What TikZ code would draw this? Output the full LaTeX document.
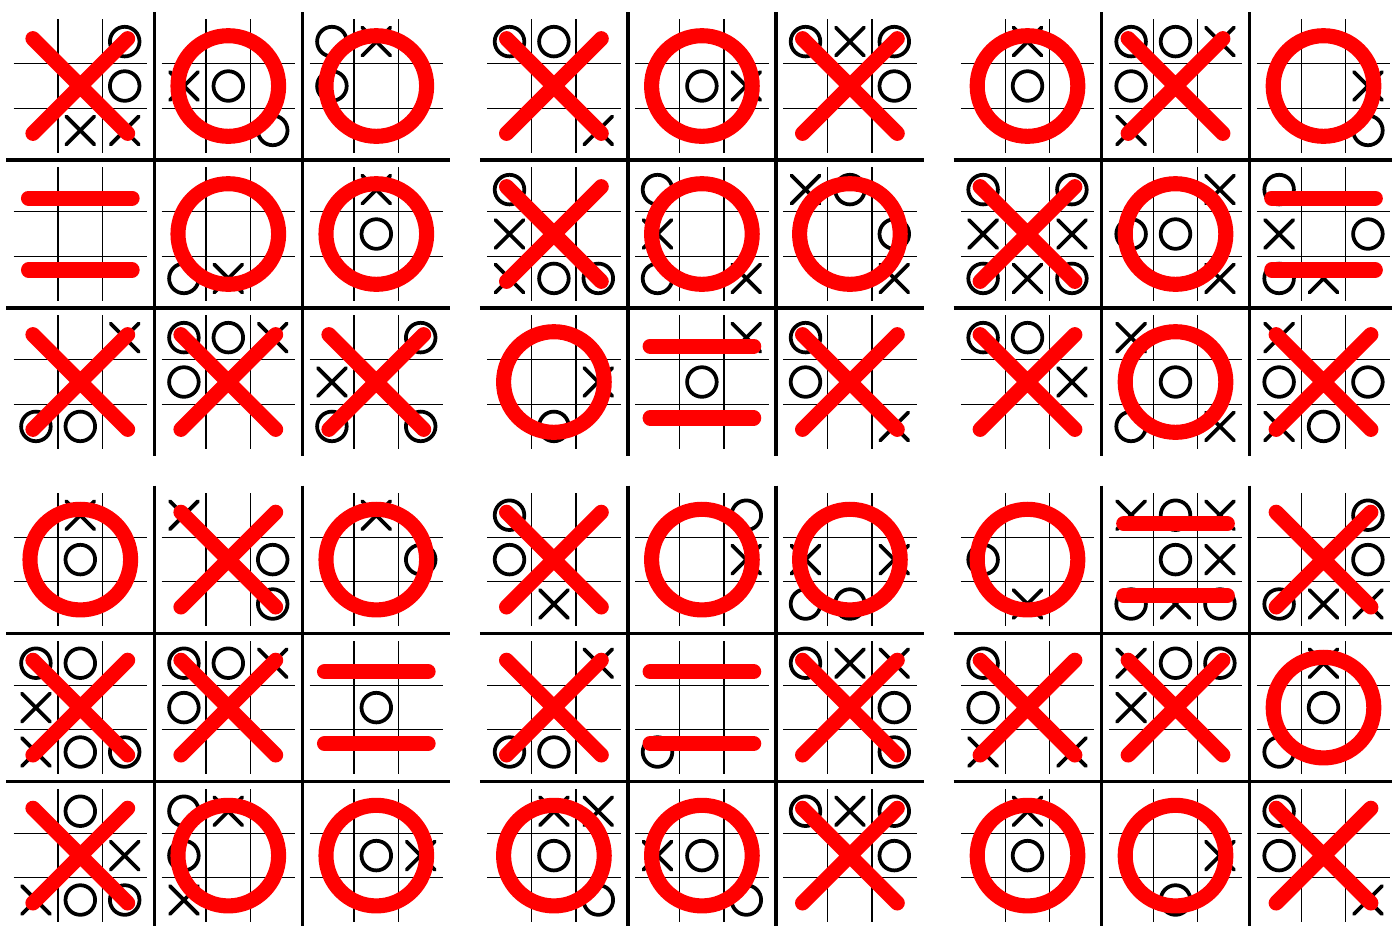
\documentclass[tikz,border=0pt]{standalone}
\begin{document}
\begin{tikzpicture}[x=1cm,y=-1cm,
    thingrid/.style={line width=0.24pt},
    thickgrid/.style={line width=0.62pt},
    piece/.style={line width=0.72pt,line cap=round},
    winmark/.style={red,line width=2.9pt,line cap=round},
    xmark/.pic={\draw[piece] (-.095,-.095) -- (.095,.095) (-.095,.095) -- (.095,-.095);},
    omark/.pic={\draw[piece] (0,0) circle (.1);},
    bigx/.pic={\draw[winmark] (-.32,-.32) -- (.32,.32) (-.32,.32) -- (.32,-.32);},
    bigo/.pic={\draw[winmark] (0,0) circle (.34);},
    bigdraw/.pic={\draw[winmark] (-.35,-.243) -- (.35,-.243) (-.35,.243) -- (.35,.243);}
]
    \clip (0,0) rectangle (9.4054,6.25);
    % Six finished games: column/row of the game, then winner/cells of each small board
    \foreach \bx/\by/\boards in {
        0/0/{X/{-,-,O,-,-,O,-,X,X},O/{-,-,-,X,O,-,-,-,O},O/{O,X,-,O,-,-,-,-,-},
             D/{-,-,-,-,-,-,-,-,-},O/{-,-,-,-,-,-,O,X,-},O/{-,X,-,-,O,-,-,-,-},
             X/{-,-,X,-,-,-,O,O,-},X/{O,O,X,O,-,-,-,-,-},X/{-,-,O,X,-,-,O,-,O}},
        1/0/{X/{O,O,-,-,-,-,-,-,X},O/{-,-,-,-,O,X,-,-,-},X/{O,X,O,-,-,O,-,-,-},
             X/{O,-,-,X,-,-,X,O,O},O/{O,-,-,X,-,-,O,-,X},O/{X,O,-,-,-,O,-,-,X},
             O/{-,-,-,-,-,X,-,O,-},D/{-,-,X,-,O,-,-,-,-},X/{O,-,-,O,-,-,-,-,X}},
        2/0/{O/{-,X,-,-,O,-,-,-,-},X/{O,O,X,O,-,-,X,-,-},O/{-,-,-,-,-,X,-,-,O},
             X/{O,-,O,X,-,X,O,X,O},O/{-,-,X,O,O,-,-,-,X},D/{O,-,-,X,-,O,O,X,-},
             X/{O,O,-,-,-,X,-,-,-},O/{X,-,-,-,O,-,O,-,X},X/{X,-,-,O,-,O,X,O,-}},
        0/1/{O/{-,X,-,-,O,-,-,-,-},X/{X,-,-,-,-,O,-,-,O},O/{-,X,-,-,-,O,-,-,-},
             X/{O,O,-,X,-,-,X,O,O},X/{O,O,X,O,-,-,-,-,-},D/{-,-,-,-,O,-,-,-,-},
             X/{-,O,-,-,-,X,X,O,O},O/{O,X,-,O,-,-,X,-,-},O/{-,-,-,-,O,X,-,-,-}},
        1/1/{X/{O,-,-,O,-,-,-,X,-},O/{-,-,O,-,-,X,-,-,-},O/{-,-,-,X,-,X,O,O,-},
             X/{-,-,X,-,-,-,O,O,-},D/{-,-,-,-,-,-,O,-,-},X/{O,X,X,-,-,O,-,-,O},
             O/{-,X,X,-,O,-,-,-,O},O/{-,-,-,X,O,-,-,-,O},X/{O,X,O,-,-,O,-,-,-}},
        2/1/{O/{-,-,-,O,-,-,-,X,-},D/{X,O,X,-,O,X,O,X,O},X/{-,-,O,-,-,O,O,X,X},
             X/{O,-,-,O,-,-,X,-,X},X/{X,O,O,X,-,-,-,-,-},O/{-,X,-,-,O,-,O,-,-},
             O/{-,X,-,-,O,-,-,-,-},O/{-,-,-,-,-,X,-,O,-},X/{O,-,-,O,-,-,-,-,X}}} {
        \begin{scope}[shift={(0.0426+3.2*\bx,0.081+3.2*\by)}]
            % big board lines
            \draw[thickgrid] (1,0) -- (1,3) (2,0) -- (2,3) (0,1) -- (3,1) (0,2) -- (3,2);
            \foreach \w/\cells [count=\n from 0] in \boards {
                \pgfmathtruncatemacro\col{mod(\n,3)}
                \pgfmathtruncatemacro\row{int(\n/3)}
                \begin{scope}[shift={(\col+0.5,\row+0.5)}]
                    \draw[thingrid] (-.15,-.45) -- (-.15,.45) (.15,-.45) -- (.15,.45)
                        (-.45,-.15) -- (.45,-.15) (-.45,.15) -- (.45,.15);
                    \foreach \m [count=\k from 0] in \cells {
                        \pgfmathsetmacro\cx{0.3*mod(\k,3)-0.3}
                        \pgfmathsetmacro\cy{0.3*int(\k/3)-0.3}
                        \if\m X\pic at (\cx,\cy) {xmark};\fi
                        \if\m O\pic at (\cx,\cy) {omark};\fi
                    }
                    % winner of the small board
                    \if\w X\pic at (0,0) {bigx};\fi
                    \if\w O\pic at (0,0) {bigo};\fi
                    \if\w D\pic at (0,0) {bigdraw};\fi
                \end{scope}
            }
        \end{scope}
    }
\end{tikzpicture}
\end{document}
